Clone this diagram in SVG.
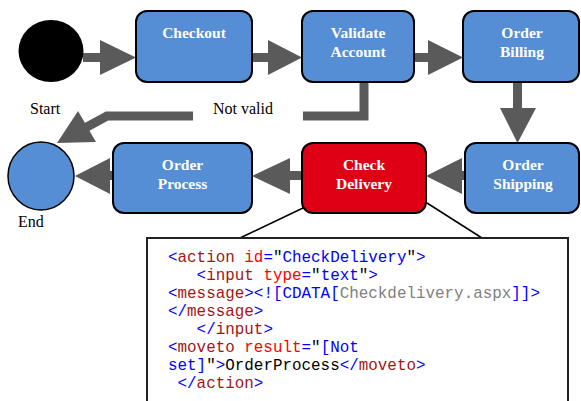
<svg xmlns="http://www.w3.org/2000/svg" width="581" height="401" viewBox="0 0 581 401">
  <style>
    .box { stroke: #000; stroke-width: 2; }
    .blue { fill: #558ED5; }
    .red { fill: #E00016; }
    .lbl { font-family: "Liberation Serif", "Times New Roman", serif; font-weight: bold; font-size: 15.5px; fill: #fff; text-anchor: middle; }
    .cap { font-family: "Liberation Serif", "Times New Roman", serif; font-size: 16px; fill: #000; }
    .arr { fill: #5A5A5A; }
    .wire { fill: none; stroke: #5A5A5A; stroke-width: 9; }
    .code { font-family: "Liberation Mono", "Courier New", monospace; font-size: 15.9px; white-space: pre; }
    .b { fill: #0000FF; }
    .t { fill: #A31515; }
    .a { fill: #FF0000; }
    .k { fill: #000; }
    .g { fill: #808080; }
  </style>

  <!-- connectors -->
  <g id="connectors">
    <!-- Start -> Checkout -->
    <rect class="arr" x="83" y="53" width="18" height="9"/>
    <polygon class="arr" points="100,40 136,57.5 100,75"/>
    <!-- Checkout -> Validate Account -->
    <rect class="arr" x="251" y="53" width="18" height="9"/>
    <polygon class="arr" points="268,40 302,57.5 268,75"/>
    <!-- Validate Account -> Order Billing -->
    <rect class="arr" x="413" y="53" width="16" height="9"/>
    <polygon class="arr" points="428,40 463,57.5 428,75"/>
    <!-- Order Billing -> Order Shipping -->
    <rect class="arr" x="513" y="81" width="9" height="28"/>
    <polygon class="arr" points="500,108 536,108 517.5,143"/>
    <!-- Order Shipping -> Check Delivery -->
    <rect class="arr" x="461" y="171" width="5" height="9"/>
    <polygon class="arr" points="462,158 426,176 462,194"/>
    <!-- Check Delivery -> Order Process -->
    <rect class="arr" x="289" y="171" width="14" height="9"/>
    <polygon class="arr" points="290,158 252,176 290,194"/>
    <!-- Order Process -> End -->
    <rect class="arr" x="109" y="171" width="5" height="9"/>
    <polygon class="arr" points="110,158 75,176 110,194"/>
    <!-- Validate Account -> End (not valid) -->
    <path class="wire" d="M364,82 V116 H303"/>
    <path class="wire" d="M193,116 H107 L85,128"/>
    <polygon class="arr" points="78,111 57,143 96,142"/>
    <!-- callout from Check Delivery to its action definition -->
    <line x1="303" y1="208" x2="240" y2="238" stroke="#000" stroke-width="1.5"/>
    <line x1="427" y1="203" x2="482" y2="238" stroke="#000" stroke-width="1.5"/>
  </g>

  <g id="start">
    <ellipse cx="51" cy="51" rx="32.5" ry="31" fill="#000"/>
    <text class="cap" x="30" y="114">Start</text>
  </g>

  <g id="end">
    <ellipse cx="41" cy="176" rx="33" ry="34" class="blue" stroke="#000" stroke-width="1.5"/>
    <text class="cap" x="18" y="227">End</text>
  </g>

  <g id="not-valid">
    <text class="cap" x="213" y="114">Not valid</text>
  </g>

  <g id="checkout">
    <rect class="box blue" x="136" y="11" width="116" height="71" rx="11"/>
    <text class="lbl" x="194" y="38">Checkout</text>
  </g>

  <g id="validate-account">
    <rect class="box blue" x="302" y="11" width="112" height="71" rx="11"/>
    <text class="lbl" x="358" y="38">Validate</text>
    <text class="lbl" x="358" y="57">Account</text>
  </g>

  <g id="order-billing">
    <rect class="box blue" x="463" y="11" width="116" height="71" rx="11"/>
    <text class="lbl" x="522" y="38">Order</text>
    <text class="lbl" x="522" y="57">Billing</text>
  </g>

  <g id="order-shipping">
    <rect class="box blue" x="465" y="143" width="114" height="70" rx="11"/>
    <text class="lbl" x="523" y="170">Order</text>
    <text class="lbl" x="523" y="189">Shipping</text>
  </g>

  <g id="check-delivery">
    <rect class="box red" x="302" y="143" width="124" height="70" rx="11"/>
    <text class="lbl" x="364" y="170">Check</text>
    <text class="lbl" x="364" y="189">Delivery</text>
  </g>

  <g id="order-process">
    <rect class="box blue" x="113" y="143" width="139" height="70" rx="11"/>
    <text class="lbl" x="182.5" y="170">Order</text>
    <text class="lbl" x="182.5" y="189">Process</text>
  </g>

  <g id="action-definition">
    <rect x="147" y="238" width="421" height="200" fill="#fff" stroke="#222" stroke-width="2"/>
    <text class="code" x="168" y="262"><tspan class="b">&lt;</tspan><tspan class="t">action</tspan><tspan class="a"> id</tspan><tspan class="b">=</tspan><tspan class="k">"</tspan><tspan class="b">CheckDelivery</tspan><tspan class="k">"</tspan><tspan class="b">&gt;</tspan></text>
    <text class="code" x="168" y="280"><tspan class="b">   &lt;</tspan><tspan class="t">input</tspan><tspan class="a"> type</tspan><tspan class="b">=</tspan><tspan class="k">"</tspan><tspan class="b">text</tspan><tspan class="k">"</tspan><tspan class="b">&gt;</tspan></text>
    <text class="code" x="168" y="298"><tspan class="b">&lt;</tspan><tspan class="t">message</tspan><tspan class="b">&gt;&lt;![CDATA[</tspan><tspan class="g">Checkdelivery.aspx</tspan><tspan class="b">]]&gt;</tspan></text>
    <text class="code" x="168" y="316"><tspan class="b">&lt;/</tspan><tspan class="t">message</tspan><tspan class="b">&gt;</tspan></text>
    <text class="code" x="168" y="334"><tspan class="b">   &lt;/</tspan><tspan class="t">input</tspan><tspan class="b">&gt;</tspan></text>
    <text class="code" x="168" y="352"><tspan class="b">&lt;</tspan><tspan class="t">moveto</tspan><tspan class="a"> result</tspan><tspan class="b">=</tspan><tspan class="k">"</tspan><tspan class="b">[Not</tspan></text>
    <text class="code" x="168" y="370"><tspan class="b">set]</tspan><tspan class="k">"</tspan><tspan class="b">&gt;</tspan><tspan class="k">OrderProcess</tspan><tspan class="b">&lt;/</tspan><tspan class="t">moveto</tspan><tspan class="b">&gt;</tspan></text>
    <text class="code" x="168" y="388"><tspan class="b"> &lt;/</tspan><tspan class="t">action</tspan><tspan class="b">&gt;</tspan></text>
  </g>
</svg>
